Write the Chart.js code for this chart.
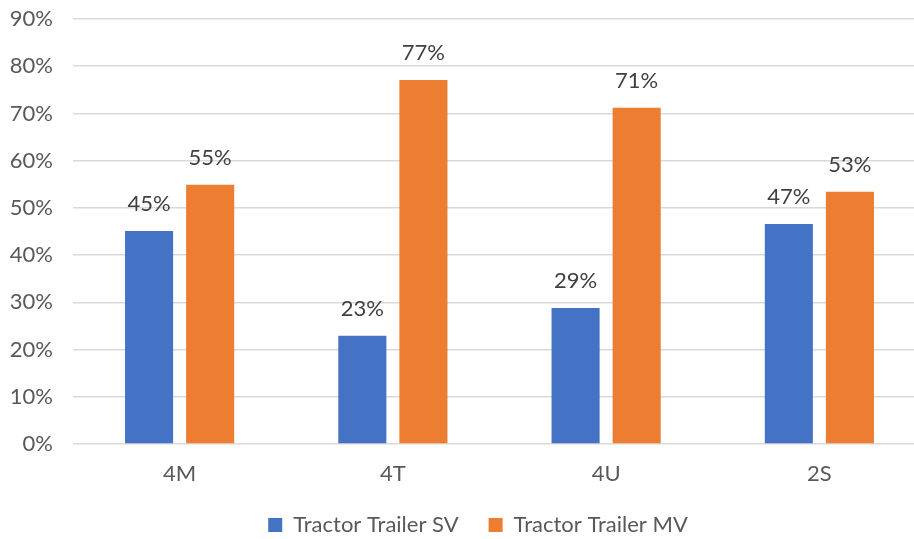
<!DOCTYPE html>
<html>
<head>
<meta charset="utf-8">
<script src="https://cdn.jsdelivr.net/npm/chart.js@4"></script>
<style>
html,body{margin:0;padding:0;background:#fff;overflow:hidden;}
#wrap{position:absolute;left:0;top:0;width:926px;height:539px;}
</style>
</head>
<body>
<div id="wrap"><canvas id="c"></canvas></div>
<script>
const categories = ['4M', '4T', '4U', '2S'];
const seriesNames = ['Tractor Trailer SV', 'Tractor Trailer MV'];
const svValues = [45.1, 22.9, 28.8, 46.6];
const mvValues = [54.9, 77.1, 71.2, 53.4];
const yTicks = [0, 10, 20, 30, 40, 50, 60, 70, 80, 90];

const FONT = 'Lato, "Open Sans", sans-serif';
const FS = 22;

const labelPlugin = {
  id: 'barLabels',
  afterLayout(chart) {
    if (chart.legend) { chart.legend.left += 30; }
  },
  afterDatasetsDraw(chart) {
    const ctx = chart.ctx;
    ctx.save();
    ctx.font = FS + 'px ' + FONT;
    ctx.fillStyle = '#404040';
    ctx.textAlign = 'center';
    ctx.textBaseline = 'alphabetic';
    chart.data.datasets.forEach((ds, i) => {
      const meta = chart.getDatasetMeta(i);
      meta.data.forEach((bar, j) => {
        ctx.fillText(Math.round(ds.data[j]) + '%', bar.x, bar.y - 20);
      });
    });
    ctx.restore();
  }
};

new Chart(document.getElementById('c'), {
  type: 'bar',
  data: {
    labels: categories,
    datasets: [
      { label: seriesNames[0], data: svValues, backgroundColor: '#4472C4',
        categoryPercentage: 0.573, barPercentage: 0.787 },
      { label: seriesNames[1], data: mvValues, backgroundColor: '#ED7D31',
        categoryPercentage: 0.573, barPercentage: 0.787 }
    ]
  },
  options: {
    responsive: true,
    maintainAspectRatio: false,
    animation: false,
    layout: { autoPadding: false, padding: { top: 19, left: 0, right: 0, bottom: -7 } },
    plugins: {
      tooltip: { enabled: false },
      legend: {
        position: 'bottom',
        labels: {
          font: { size: FS, family: FONT },
          color: '#595959',
          boxWidth: 14, boxHeight: 14,
          padding: 30
        }
      }
    },
    scales: {
      x: {
        grid: { display: false },
        border: { display: false },
        afterFit(scale) { scale.height = 40; },
        ticks: { font: { size: FS, family: FONT }, color: '#595959', padding: 9 }
      },
      y: {
        min: 0, max: 90,
        afterBuildTicks(scale) { scale.ticks = yTicks.map(v => ({ value: v })); },
        afterFit(scale) { scale.width = 73; },
        grid: { color: '#d9d9d9', lineWidth: 1.5, drawTicks: true, tickLength: 20, tickColor: 'rgba(0,0,0,0)' },
        border: { display: false },
        ticks: {
          font: { size: FS, family: FONT }, color: '#595959', padding: 0,
          callback: v => v + '%'
        }
      }
    }
  },
  plugins: [labelPlugin]
});
</script>
</body>
</html>
